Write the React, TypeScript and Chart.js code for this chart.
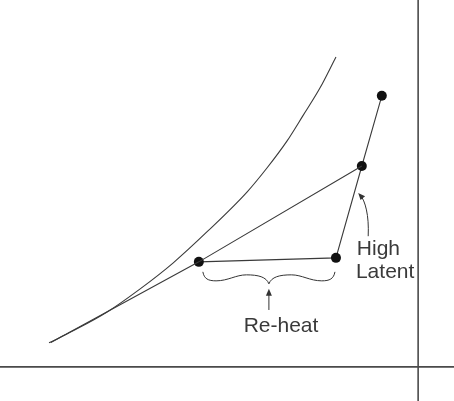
import React, { useEffect, useRef } from "react";
import { Chart, registerables } from "chart.js";

Chart.register(...registerables);

// Saturation curve (arbitrary diagram units, 0..100 on both axes)
const curveX = [10.8, 16.1, 23.6, 30.8, 38.1, 45.8, 54.4, 58.8, 63.2, 66.7, 70.5, 74.0];
const curveY = [14.5, 17.5, 22.2, 27.9, 34.4, 42.4, 52.1, 58.1, 64.8, 71.1, 78.1, 85.8];

// Process state points: supply (after coil), re-heated, mixed, outdoor
const stateX = [43.8, 74.0, 79.7, 84.1];
const stateY = [34.7, 35.7, 58.6, 76.1];

// Coil line tangent end on the saturation curve
const tangentX = [11.2];
const tangentY = [14.6];

// Axes of the diagram
const axisYLevel = [8.5];
const axisXLevel = [92.1];

const labels = ["Re-heat", "High", "Latent"];

const FONT = '21px "Liberation Sans", Arial, sans-serif';
const INK = "#333333";

const annotate = {
  id: "annotate",
  afterDatasetsDraw(chart: any) {
    const { ctx, scales } = chart;
    const xs = scales.x;
    const ys = scales.y;
    const px = (v: number) => xs.getPixelForValue(v);
    const py = (v: number) => ys.getPixelForValue(v);
    ctx.save();
    ctx.strokeStyle = INK;
    ctx.fillStyle = INK;
    ctx.lineWidth = 1;

    // Brace beneath the re-heat segment
    const L = px(stateX[0]) + 4;
    const R = px(stateX[1]) - 1;
    const M = (L + R) / 2;
    const W = R - L;
    const base = (py(stateY[0]) + py(stateY[1])) / 2 + 12;
    const f = (t: number) => L + W * t;
    ctx.beginPath();
    ctx.moveTo(L, base);
    ctx.bezierCurveTo(f(0.01), base + 7, f(0.04), base + 9, f(0.1), base + 9);
    ctx.bezierCurveTo(f(0.19), base + 9, f(0.25), base + 3, f(0.33), base + 3);
    ctx.bezierCurveTo(f(0.42), base + 3, f(0.48), base + 5, M, base + 12);
    ctx.bezierCurveTo(f(0.52), base + 5, f(0.58), base + 3, f(0.67), base + 3);
    ctx.bezierCurveTo(f(0.75), base + 3, f(0.81), base + 9, f(0.9), base + 9);
    ctx.bezierCurveTo(f(0.96), base + 9, f(0.99), base + 7, R, base);
    ctx.stroke();

    // Straight arrow up to the brace
    const aTop = base + 17;
    const aBot = py(22.7);
    ctx.beginPath();
    ctx.moveTo(M, aBot);
    ctx.lineTo(M, aTop + 5);
    ctx.stroke();
    ctx.beginPath();
    ctx.moveTo(M, aTop);
    ctx.lineTo(M - 3, aTop + 7);
    ctx.lineTo(M + 3, aTop + 7);
    ctx.closePath();
    ctx.fill();

    // Curved arrow for High Latent
    const tx = px(81.1), ty = py(41.1);
    const hx = px(78.9), hy = py(51.9);
    const c1x = tx + 1, c1y = ty - 21;
    const c2x = hx + 7, c2y = hy + 8;
    ctx.beginPath();
    ctx.moveTo(tx, ty);
    ctx.bezierCurveTo(c1x, c1y, c2x, c2y, hx + 2, hy + 2);
    ctx.stroke();
    const ang = Math.atan2(hy - c2y, hx - c2x);
    const hl = 7, hw = 3;
    ctx.beginPath();
    ctx.moveTo(hx, hy);
    ctx.lineTo(hx - hl * Math.cos(ang) + hw * Math.sin(ang), hy - hl * Math.sin(ang) - hw * Math.cos(ang));
    ctx.lineTo(hx - hl * Math.cos(ang) - hw * Math.sin(ang), hy - hl * Math.sin(ang) + hw * Math.cos(ang));
    ctx.closePath();
    ctx.fill();

    // Labels
    ctx.font = FONT;
    ctx.fillStyle = "#3a3a3a";
    ctx.textBaseline = "alphabetic";
    ctx.textAlign = "center";
    ctx.fillText(labels[0], px(61.9), py(17.2));
    ctx.textAlign = "left";
    ctx.fillText(labels[1], px(78.6), py(36.4));
    ctx.fillText(labels[2], px(78.4), py(30.7));
    ctx.restore();
  },
};

export default function App() {
  const ref = useRef<HTMLCanvasElement | null>(null);
  useEffect(() => {
    if (!ref.current) return;
    const pts = (xs: number[], ys: number[]) => xs.map((x, i) => ({ x, y: ys[i] }));
    const chart = new Chart(ref.current, {
      type: "scatter",
      data: {
        datasets: [
          {
            data: [{ x: 0, y: axisYLevel[0] }, { x: 100, y: axisYLevel[0] }],
            showLine: true,
            borderColor: "#4a4a4a",
            borderWidth: 1.6,
            pointRadius: 0,
          },
          {
            data: [{ x: axisXLevel[0], y: 0 }, { x: axisXLevel[0], y: 100 }],
            showLine: true,
            borderColor: "#4a4a4a",
            borderWidth: 1.6,
            pointRadius: 0,
          },
          {
            data: pts(curveX, curveY),
            showLine: true,
            cubicInterpolationMode: "monotone",
            borderColor: "#3a3a3a",
            borderWidth: 1.1,
            pointRadius: 0,
          },
          {
            data: [
              { x: tangentX[0], y: tangentY[0] },
              { x: stateX[0], y: stateY[0] },
              { x: stateX[2], y: stateY[2] },
            ],
            showLine: true,
            borderColor: "#3a3a3a",
            borderWidth: 1.1,
            pointRadius: 0,
          },
          {
            data: pts(stateX, stateY),
            showLine: true,
            borderColor: "#3a3a3a",
            borderWidth: 1.1,
            pointRadius: 5,
            pointBackgroundColor: "#111111",
            pointBorderColor: "#111111",
            pointBorderWidth: 0,
          },
        ],
      },
      options: {
        responsive: false,
        animation: false,
        layout: { padding: 0, autoPadding: false },
        events: [],
        plugins: { legend: { display: false }, tooltip: { enabled: false } },
        scales: {
          x: { type: "linear", min: 0, max: 100, display: false },
          y: { type: "linear", min: 0, max: 100, display: false },
        },
      },
      plugins: [annotate],
    } as any);
    return () => chart.destroy();
  }, []);
  return (
    <div style={{ position: "fixed", left: 0, top: 0, width: 454, height: 401, background: "#fff" }}>
      <canvas ref={ref} width={454} height={401} style={{ width: 454, height: 401, display: "block" }} />
    </div>
  );
}
